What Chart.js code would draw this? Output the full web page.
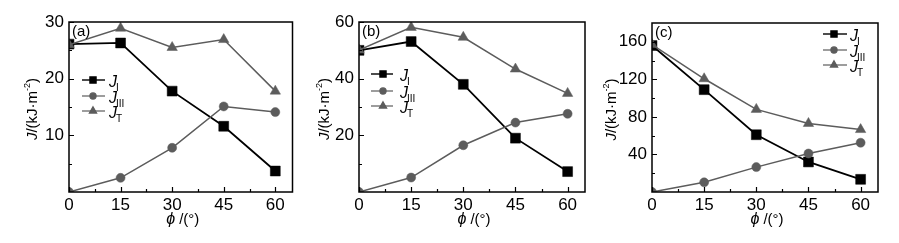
<!DOCTYPE html>
<html><head><meta charset="utf-8">
<script src="https://cdn.jsdelivr.net/npm/chart.js@4"></script>
<style>
html,body{margin:0;padding:0;background:#fff;width:899px;height:243px;overflow:hidden}
.p{position:absolute;top:0;height:243px}
canvas{display:block}
</style></head><body>
<div class="p" style="left:0;width:300px"><canvas id="ca" width="300" height="243"></canvas></div>
<div class="p" style="left:300px;width:300px"><canvas id="cb" width="300" height="243"></canvas></div>
<div class="p" style="left:600px;width:299px"><canvas id="cc" width="299" height="243"></canvas></div>
<script>
// ---- data ----
const phi = [0, 15, 30, 45, 60];
const xTicks = [0, 15, 30, 45, 60];
const xMinor = [7.5, 22.5, 37.5, 52.5];

const aJI   = [26.1, 26.3, 17.8, 11.6, 3.7];
const aJIII = [0, 2.5, 7.8, 15.1, 14.1];
const aJT   = [26.0, 28.9, 25.5, 26.9, 17.8];
const aYTicks = [10, 20, 30];
const aYMinor = [5, 15, 25];

const bJI   = [50.0, 53.1, 38.0, 19.0, 7.2];
const bJIII = [0, 5.1, 16.5, 24.5, 27.6];
const bJT   = [50.1, 58.1, 54.6, 43.4, 34.8];
const bYTicks = [20, 40, 60];
const bYMinor = [10, 30, 50];

const cJI   = [156, 109, 61, 32, 13.5];
const cJIII = [0, 10.3, 26.5, 41, 52.5];
const cJT   = [157, 120.6, 88, 73, 66.5];
const cYTicks = [40, 80, 120, 160];
const cYMinor = [20, 60, 100, 140, 180];

const seriesNames = ['I', 'III', 'T'];
const panelLabels = ['(a)', '(b)', '(c)'];

// ---- drawing ----
const FONT = '"Liberation Sans", Arial, sans-serif';
const BLACK = '#000000';
const GRAY = '#5c5c5c';
const styles = [
  {color: BLACK, pointStyle: 'rect', radius: 7, lw: 1.8, lr: 4.3, llw: 1.4},
  {color: GRAY, pointStyle: 'circle', radius: 4.5, lw: 1.5, lr: 3.1, llw: 1.2},
  {color: GRAY, pointStyle: 'triangle', radius: 6, lw: 1.5, lr: 4.2, llw: 1.2}
];

function drawParts(ctx, parts, cx, cy) {
  let total = 0;
  parts.forEach(p => { ctx.font = p.f; p.w = ctx.measureText(p.t).width; total += p.w; });
  let x = cx - total / 2;
  ctx.textAlign = 'left';
  ctx.textBaseline = 'middle';
  parts.forEach(p => { ctx.font = p.f; ctx.fillText(p.t, x, cy + (p.dy || 0)); x += p.w; });
}

function makePanel(id, cfg) {
  const canvas = document.getElementById(id);
  const W = canvas.width, H = canvas.height;
  const area = cfg.area;
  const deco = {
    id: 'deco',
    afterDraw(chart) {
      const ctx = chart.ctx;
      const ca = chart.chartArea;
      const xs = chart.scales.x, ys = chart.scales.y;
      ctx.save();
      ctx.fillStyle = '#000';
      ctx.strokeStyle = '#000';
      // inward ticks
      ctx.lineWidth = 1.2;
      ctx.beginPath();
      xTicks.forEach(v => { const p = Math.round(xs.getPixelForValue(v)) + 0.5; ctx.moveTo(p, ca.bottom); ctx.lineTo(p, ca.bottom - 5); });
      xMinor.forEach(v => { const p = Math.round(xs.getPixelForValue(v)) + 0.5; ctx.moveTo(p, ca.bottom); ctx.lineTo(p, ca.bottom - 3); });
      cfg.yTicks.forEach(v => { const p = Math.round(ys.getPixelForValue(v)) + 0.5; ctx.moveTo(ca.left, p); ctx.lineTo(ca.left + 5, p); });
      cfg.yMinor.forEach(v => { if (v >= ys.max) return; const p = Math.round(ys.getPixelForValue(v)) + 0.5; ctx.moveTo(ca.left, p); ctx.lineTo(ca.left + 3, p); });
      ctx.stroke();
      // frame
      ctx.lineWidth = 1.5;
      ctx.strokeRect(ca.left, ca.top, ca.right - ca.left, ca.bottom - ca.top);
      // panel label
      ctx.font = '15px ' + FONT;
      ctx.textAlign = 'left';
      ctx.textBaseline = 'middle';
      ctx.fillText(cfg.label, ca.left + 3, ca.top + 10);
      // legend
      const lg = cfg.legend;
      seriesNames.forEach((name, i) => {
        const st = styles[i];
        const y = lg.y[i];
        ctx.strokeStyle = st.color;
        ctx.fillStyle = st.color;
        ctx.lineWidth = st.llw;
        ctx.beginPath();
        ctx.moveTo(lg.x0, y); ctx.lineTo(lg.x1, y);
        ctx.stroke();
        Chart.helpers.drawPoint(ctx, {pointStyle: st.pointStyle, radius: st.lr, rotation: 0, borderWidth: 0.5}, lg.xm, y);
        ctx.fillStyle = '#000';
        ctx.font = 'italic 16px ' + FONT;
        ctx.textAlign = 'left';
        ctx.textBaseline = 'middle';
        ctx.fillText('J', lg.xt, y + 3);
        const wj = ctx.measureText('J').width;
        ctx.font = '10px ' + FONT;
        ctx.fillText(name, lg.xt + wj - 1, y + 8);
      });
      // axis titles
      ctx.fillStyle = '#000';
      ctx.save();
      ctx.translate(cfg.yTitleX, (ca.top + ca.bottom) / 2 + 2);
      ctx.rotate(-Math.PI / 2);
      drawParts(ctx, [
        {t: 'J', f: 'italic 15px ' + FONT},
        {t: '/(kJ·m', f: '15px ' + FONT},
        {t: '-2', f: '9px ' + FONT, dy: -5},
        {t: ')', f: '15px ' + FONT}
      ], 0, 0);
      ctx.restore();
      drawParts(ctx, [
        {t: 'ϕ', f: 'italic 16px ' + FONT},
        {t: ' /(°)', f: '15px ' + FONT}
      ], (ca.left + ca.right) / 2 + 2, 220);
      ctx.restore();
    }
  };
  const series = [cfg.JI, cfg.JIII, cfg.JT];
  new Chart(canvas, {
    type: 'line',
    data: {
      datasets: series.map((arr, i) => ({
        label: 'J' + seriesNames[i],
        data: phi.map((x, k) => ({x: x, y: arr[k]})),
        borderColor: styles[i].color,
        backgroundColor: styles[i].color,
        borderWidth: styles[i].lw,
        pointStyle: styles[i].pointStyle,
        pointRadius: styles[i].radius,
        pointBorderWidth: 0.5,
        pointBorderColor: styles[i].color,
        pointBackgroundColor: styles[i].color,
        tension: 0,
        clip: 0
      })).reverse()
    },
    options: {
      responsive: false,
      animation: false,
      devicePixelRatio: 1,
      layout: {padding: {left: 0, right: W - area.right, top: area.top, bottom: 0}},
      plugins: {legend: {display: false}, tooltip: {enabled: false}},
      scales: {
        x: {
          type: 'linear', min: 0, max: 65,
          grid: {display: false, drawTicks: false},
          border: {display: false},
          ticks: {font: {family: FONT, size: 17}, color: '#000', padding: 3, maxRotation: 0, autoSkip: false},
          afterBuildTicks: s => { s.ticks = xTicks.map(v => ({value: v})); },
          afterFit: s => { s.height = H - area.bottom; }
        },
        y: {
          type: 'linear', min: 0, max: cfg.yMax,
          grid: {display: false, drawTicks: false},
          border: {display: false},
          ticks: {font: {family: FONT, size: 17}, color: '#000', padding: 5, autoSkip: false},
          afterBuildTicks: s => { s.ticks = cfg.yTicks.map(v => ({value: v})); },
          afterFit: s => { s.width = area.left; }
        }
      }
    },
    plugins: [deco]
  });
}

makePanel('ca', {JI: aJI, JIII: aJIII, JT: aJT, yMax: 30, yTicks: aYTicks, yMinor: aYMinor, label: panelLabels[0],
  area: {left: 69, right: 294, top: 22, bottom: 192}, yTitleX: 33,
  legend: {x0: 82, x1: 105, xm: 93, xt: 109, y: [80, 96, 111]}});
makePanel('cb', {JI: bJI, JIII: bJIII, JT: bJT, yMax: 60, yTicks: bYTicks, yMinor: bYMinor, label: panelLabels[1],
  area: {left: 59, right: 285, top: 22, bottom: 192}, yTitleX: 25,
  legend: {x0: 71, x1: 93, xm: 83, xt: 100, y: [74, 91, 106]}});
makePanel('cc', {JI: cJI, JIII: cJIII, JT: cJT, yMax: 180, yTicks: cYTicks, yMinor: cYMinor, label: panelLabels[2],
  area: {left: 52, right: 278, top: 23, bottom: 192}, yTitleX: 12,
  legend: {x0: 223, x1: 247, xm: 234, xt: 250, y: [34, 50, 65]}});
</script>
</body></html>
